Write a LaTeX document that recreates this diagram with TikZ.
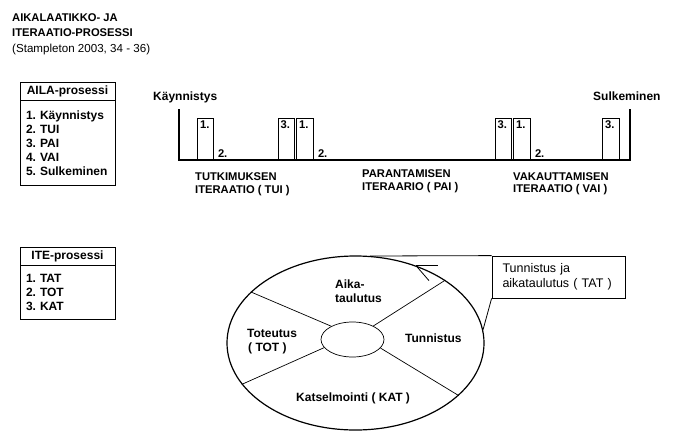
\documentclass[tikz,border=0pt]{standalone}
\usepackage{fontspec}
\setmainfont{Liberation Sans}
\usetikzlibrary{shapes.geometric,calc}
\begin{document}
\frenchspacing
\begin{tikzpicture}[x=1pt,y=-1pt,
  lbl/.style={font=\fontsize{12}{14}\selectfont\bfseries, inner sep=0pt, anchor=base west},
  slbl/.style={font=\fontsize{11.2}{13}\selectfont\bfseries, inner sep=0pt, anchor=base west},
  hdr/.style={draw, line width=0.8pt, minimum width=95pt, minimum height=18pt, inner sep=0pt, font=\fontsize{12}{14}\selectfont\bfseries},
  listbody/.style={draw, line width=0.8pt, minimum width=95pt, inner xsep=6pt, inner ysep=0pt, text width=83pt, align=left, font=\fontsize{12}{14}\selectfont\bfseries},
  tbox/.style={draw, line width=0.8pt, minimum width=16pt, minimum height=41pt, inner sep=0pt, anchor=south west},
  spoke/.style={line width=0.7pt},
  thin/.style={line width=0.8pt}]
\useasboundingbox (0,0) rectangle (700,442);

% title
\node[anchor=base west, font=\fontsize{11.2}{14}\selectfont\bfseries, inner sep=0pt] (t1) at (12,21) {AIKALAATIKKO- JA};
\node[anchor=base west, font=\fontsize{11.2}{14}\selectfont\bfseries, inner sep=0pt] (t2) at (12,36) {ITERAATIO-PROSESSI};
\node[anchor=base west, font=\fontsize{11.6}{14}\selectfont, inner sep=0pt] (t3) at (12,52.5) {(Stampleton 2003, 34 - 36)};

% AILA box
\node[hdr] (ailah) at (67.5,91) {AILA-prosessi};
\node[listbody, minimum height=85pt, anchor=north] (ailab) at (ailah.south) {1. Käynnistys\\2. TUI\\3. PAI\\4. VAI\\5. Sulkeminen};

% ITE box
\node[hdr] (iteh) at (67.5,256) {ITE-prosessi};
\node[listbody, minimum height=54pt, anchor=north] (iteb) at (iteh.south) {1. TAT\\2. TOT\\3. KAT};

% timeline
\coordinate (s0) at (179,109);
\coordinate (s1) at (179,160);
\coordinate (e1) at (630,160);
\coordinate (e0) at (630,109);
\draw[line width=2pt] (s0) -- (s1) -- (e1) -- (e0);

\node[tbox] (b1) at (197,160) {};
\node[tbox] (b2) at (278,160) {};
\node[tbox, minimum width=17pt] (b3) at (296,160) {};
\node[tbox] (b4) at (495,160) {};
\node[tbox, minimum width=17pt] (b5) at (513,160) {};
\node[tbox, minimum width=17pt] (b6) at (602,160) {};

\node[slbl] (n1) at ($(b1.north west)+(3,10.5)$) {1.};
\node[slbl] (n2) at ($(b1.south east)+(4,-3)$) {2.};
\node[slbl] (n3) at ($(b2.north west)+(2.5,10.5)$) {3.};
\node[slbl] (n4) at ($(b3.north west)+(3,10.5)$) {1.};
\node[slbl] (n5) at ($(b3.south east)+(4,-3)$) {2.};
\node[slbl] (n6) at ($(b4.north west)+(2.5,10.5)$) {3.};
\node[slbl] (n7) at ($(b5.north west)+(3,10.5)$) {1.};
\node[slbl] (n8) at ($(b5.south east)+(4,-3)$) {2.};
\node[slbl] (n9) at ($(b6.north west)+(3,10.5)$) {3.};

\node[lbl] (kay) at (153,100) {Käynnistys};
\node[lbl] (sul) at (593,100) {Sulkeminen};

\node[slbl] (tui1) at (195,180) {TUTKIMUKSEN};
\node[slbl] (tui2) at (195,193) {ITERAATIO ( TUI )};
\node[slbl] (pai1) at (362,177.5) {PARANTAMISEN};
\node[slbl] (pai2) at (362,190.5) {ITERAARIO ( PAI )};
\node[slbl] (vai1) at (513,180) {VAKAUTTAMISEN};
\node[slbl] (vai2) at (513,192.5) {ITERAATIO ( VAI )};

% cycle
\node[draw, ellipse, line width=1.2pt, minimum width=257pt, minimum height=174pt, inner sep=0pt] (E) at (355.5,343) {};
\node[draw, ellipse, line width=0.7pt, minimum width=63pt, minimum height=35pt, inner sep=0pt] (I) at (352.5,339.5) {};
\draw[spoke] (I.148) -- (E.154);
\draw[spoke] (I.33) -- (E.35);
\draw[spoke] (I.196) -- (E.200);
\draw[spoke] (I.343) -- (E.333.5);

\coordinate (tip) at (E.52.3);
\draw[thin] (tip) -- ++(22,0);
\draw[thin] (tip) -- ++(13,15);

\node[lbl] (aika1) at (335,288) {Aika-};
\node[lbl] (aika2) at (335,302) {taulutus};
\node[lbl] (tot1) at (247,337.5) {Toteutus};
\node[lbl] (tot2) at (248,351) {( TOT )};
\node[lbl] (tun) at (405,342) {Tunnistus};
\node[lbl] (kat) at (296,401) {Katselmointi ( KAT )};

% callout
\node[draw, thin, minimum width=133pt, minimum height=42pt, inner xsep=10.5pt, inner ysep=0pt, text width=112pt, align=left, font=\fontsize{12.5}{15}\selectfont] (TAT) at (558.5,277) {Tunnistus ja\\aikataulutus ( TAT )};
\coordinate (ct) at (370,256);
\draw[thin] (TAT.north west) -- (ct);
\draw[thin] (TAT.south west) -- (E.6);
\end{tikzpicture}
\end{document}
